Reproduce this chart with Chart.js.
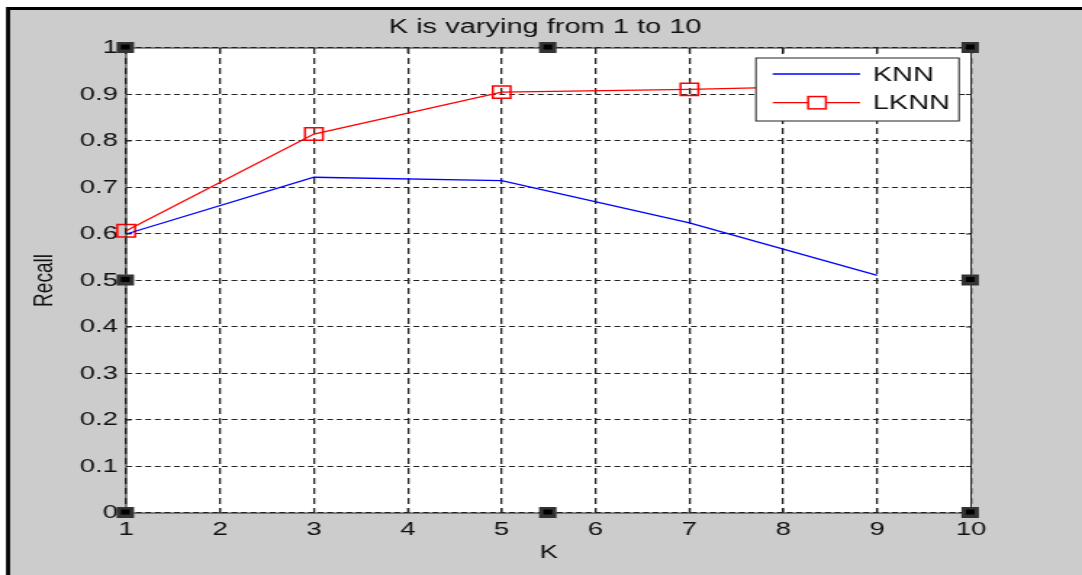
<!DOCTYPE html>
<html><head><meta charset="utf-8">
<script src="https://cdn.jsdelivr.net/npm/chart.js@4/dist/chart.umd.min.js"></script>
<style>
html,body{margin:0;padding:0;background:#fff;overflow:hidden;width:1082px;height:575px;}
#wrap{position:absolute;left:0;top:0;width:746px;height:575px;transform:scaleX(1.45040214);transform-origin:0 0;}
canvas{display:block;}
</style></head><body>
<div id="wrap"><canvas id="c" width="746" height="575" style="width:746px;height:575px"></canvas></div>
<script>
const kValues = [1, 3, 5, 7, 9];
const knnRecall = [0.600, 0.722, 0.715, 0.624, 0.511];
const lknnRecall = [0.607, 0.815, 0.905, 0.911, 0.920];
const xTickLabels = ['1','2','3','4','5','6','7','8','9','10'];
const yTickLabels = ['0','0.1','0.2','0.3','0.4','0.5','0.6','0.7','0.8','0.9','1'];
const seriesNames = ['KNN', 'LKNN'];
const chartTitle = 'K is varying from 1 to 10';
const xAxisTitle = 'K';
const yAxisTitle = 'Recall';

const FONT = '"Liberation Sans", Arial, sans-serif';
Chart.defaults.font.family = FONT;

const bgPlugin = {
  id: 'bg',
  beforeDraw(chart) {
    const ctx = chart.ctx, W = chart.width, H = chart.height;
    ctx.save();
    ctx.fillStyle = '#ffffff'; ctx.fillRect(0, 0, W, H);
    ctx.fillStyle = '#000000'; ctx.fillRect(4.14, 7, W, H);
    ctx.fillStyle = '#cccccc'; ctx.fillRect(6.9, 10, W, H);
    const a = chart.chartArea;
    ctx.fillStyle = '#ffffff'; ctx.fillRect(a.left, a.top, a.width, a.height);
    // title
    ctx.fillStyle = '#111'; ctx.font = '20px ' + FONT;
    ctx.textAlign = 'center'; ctx.textBaseline = 'alphabetic';
    ctx.fillText(chartTitle, (a.left + a.right) / 2 - 2.4, 33);
    ctx.restore();
  }
};

const framePlugin = {
  id: 'frame',
  afterDraw(chart) {
    const ctx = chart.ctx, a = chart.chartArea;
    const xs = chart.scales.x, ys = chart.scales.y;
    ctx.save();
    ctx.strokeStyle = '#222'; ctx.lineWidth = 1;
    ctx.strokeRect(a.left, a.top, a.width, a.height);
    ctx.beginPath();
    ys.ticks.forEach(t => {
      const py = ys.getPixelForValue(t.value);
      ctx.moveTo(a.left, py); ctx.lineTo(a.left + 3.5, py);
      ctx.moveTo(a.right - 3.5, py); ctx.lineTo(a.right, py);
    });
    xs.ticks.forEach(t => {
      const px = xs.getPixelForValue(t.value);
      ctx.moveTo(px, a.bottom); ctx.lineTo(px, a.bottom - 5);
      ctx.moveTo(px, a.top); ctx.lineTo(px, a.top + 5);
    });
    ctx.stroke();

    // legend box
    const right = a.right - 8.3, left = right - 140, top = a.top + 10, h = 63;
    ctx.fillStyle = '#fff'; ctx.fillRect(left, top, right - left, h);
    ctx.strokeStyle = '#222'; ctx.lineWidth = 1; ctx.strokeRect(left, top, right - left, h);
    chart.data.datasets.forEach((ds, i) => {
      const y = top + 16 + i * 28.7;
      ctx.strokeStyle = ds.borderColor; ctx.lineWidth = ds.borderWidth;
      ctx.beginPath(); ctx.moveTo(left + 11.5, y); ctx.lineTo(left + 71.8, y); ctx.stroke();
      if (ds.pointRadius > 0) {
        const s = ds.pointRadius * Math.SQRT1_2;
        ctx.lineWidth = ds.pointBorderWidth;
        ctx.fillStyle = '#fff';
        ctx.fillRect(left + 42.1 - s, y - s, 2 * s, 2 * s);
        ctx.strokeRect(left + 42.1 - s, y - s, 2 * s, 2 * s);
      }
      ctx.fillStyle = '#111'; ctx.font = '20px ' + FONT;
      ctx.textBaseline = 'middle'; ctx.textAlign = 'left';
      ctx.fillText(ds.label, left + 80.5, y + 1);
    });

    // selection handles
    const pts = [[0,0],[0.5,0],[1,0],[0,0.5],[1,0.5],[0,1],[0.5,1],[1,1]];
    pts.forEach(([fx, fy]) => {
      const px = a.left + fx * a.width - 0.6, py = a.top + fy * a.height - 0.5;
      ctx.fillStyle = '#333'; ctx.fillRect(px - 6, py - 5.5, 12, 11);
      ctx.fillStyle = '#000'; ctx.fillRect(px - 3, py - 3, 6, 5);
    });
    ctx.restore();
  }
};

new Chart(document.getElementById('c'), {
  type: 'line',
  data: {
    datasets: [
      {
        label: seriesNames[0],
        data: kValues.map((k, i) => ({x: k, y: knnRecall[i]})),
        borderColor: '#0000ff', borderWidth: 1.3,
        pointRadius: 0, tension: 0, fill: false, clip: false
      },
      {
        label: seriesNames[1],
        data: kValues.map((k, i) => ({x: k, y: lknnRecall[i]})),
        borderColor: '#ff0000', borderWidth: 1.3,
        pointStyle: 'rect', pointRadius: 8.7, pointBorderWidth: 1.5,
        pointBorderColor: '#ff0000', pointBackgroundColor: 'rgba(0,0,0,0)',
        tension: 0, fill: false, clip: false
      }
    ]
  },
  options: {
    responsive: false,
    animation: false,
    devicePixelRatio: 1,
    events: [],
    layout: { padding: { left: 0, right: 76.5, top: 48, bottom: 0 } },
    plugins: {
      legend: { display: false },
      tooltip: { enabled: false },
      title: { display: false }
    },
    scales: {
      x: {
        type: 'linear', min: 1, max: 10,
        afterFit: s => { s.height = 62; },
        ticks: {
          stepSize: 1, padding: 5, color: '#111', autoSkip: false, maxRotation: 0,
          font: { size: 19, family: FONT },
          callback: (v, i) => xTickLabels[i]
        },
        grid: { color: '#222', lineWidth: 1.3, drawTicks: false },
        border: { display: false, dash: [6, 4] },
        title: {
          display: true, text: xAxisTitle, color: '#111',
          font: { size: 19, family: FONT },
          padding: { top: 0, bottom: 10.6 }
        }
      },
      y: {
        type: 'linear', min: 0, max: 1,
        afterFit: s => { s.width = 87; },
        ticks: {
          stepSize: 0.1, padding: 5.6, color: '#111',
          font: { size: 19, family: FONT },
          callback: (v, i) => yTickLabels[i]
        },
        grid: { color: '#222', lineWidth: 1.1, drawTicks: false },
        border: { display: false, dash: [4, 2.6] },
        title: {
          display: true, text: yAxisTitle, color: '#111',
          font: { size: 19, family: FONT },
          padding: { top: 19, bottom: 0 }
        }
      }
    }
  },
  plugins: [bgPlugin, framePlugin]
});
</script>
</body></html>
